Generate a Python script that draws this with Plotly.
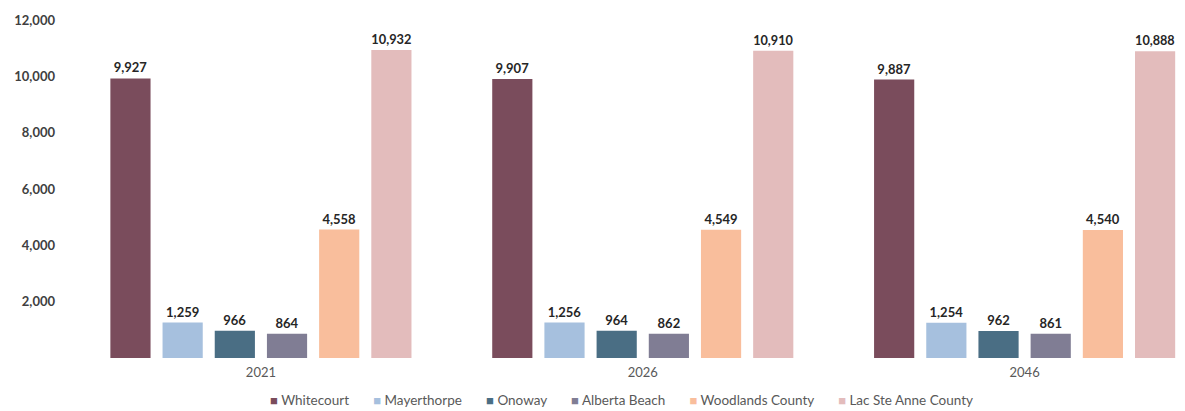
import plotly.graph_objects as go

years = ["2021", "2026", "2046"]
series_names = ["Whitecourt", "Mayerthorpe", "Onoway", "Alberta Beach", "Woodlands County", "Lac Ste Anne County"]
whitecourt = [9927, 9907, 9887]
mayerthorpe = [1259, 1256, 1254]
onoway = [966, 964, 962]
alberta_beach = [864, 862, 861]
woodlands = [4558, 4549, 4540]
lac_ste_anne = [10932, 10910, 10888]
colors = ["#7a4c5c", "#a6c0de", "#4a6e84", "#807d94", "#f9be9c", "#e3bcbc"]
ytick_vals = [2000, 4000, 6000, 8000, 10000, 12000]

values = [whitecourt, mayerthorpe, onoway, alberta_beach, woodlands, lac_ste_anne]
font_family = "Lato, 'Open Sans', sans-serif"

fig = go.Figure()
for name, vals, col in zip(series_names, values, colors):
    fig.add_trace(go.Bar(
        name=name, x=years, y=vals, marker_color=col, marker_line_width=0,
        text=[f"{v:,}" for v in vals], textposition="outside",
        textfont=dict(family=font_family, size=13, color="#262626", weight="bold"),
        cliponaxis=False, showlegend=False,
    ))

# legend built as one line of real text with coloured square markers
gap = "\u00a0" * 7
legend_text = gap.join(
    f'<span style="color:{c};font-size:13px">\u25a0</span>\u00a0{n}'
    for n, c in zip(series_names, colors)
)
fig.add_annotation(
    text=legend_text, xref="paper", yref="paper", x=0.495, y=-0.124,
    xanchor="center", yanchor="middle", showarrow=False,
    font=dict(family=font_family, size=13.5, color="#595959"),
)

fig.update_layout(
    width=1185, height=411,
    margin=dict(l=70, r=0, t=20, b=53),
    paper_bgcolor="white", plot_bgcolor="white",
    barmode="group", bargap=0.18, bargroupgap=0.23,
    font=dict(family=font_family, color="#595959"),
    xaxis=dict(type="category", range=[-0.5, 2.42], showgrid=False, showline=False,
               ticks="", ticklabelstandoff=5, tickfont=dict(size=13, color="#595959")),
    yaxis=dict(range=[0, 12000], tickvals=ytick_vals, tickformat=",", showgrid=False,
               showline=False, zeroline=False, ticks="", ticklabelstandoff=14,
               tickfont=dict(size=13, color="#404040", weight="bold")),
)

fig.write_html("out.html")
